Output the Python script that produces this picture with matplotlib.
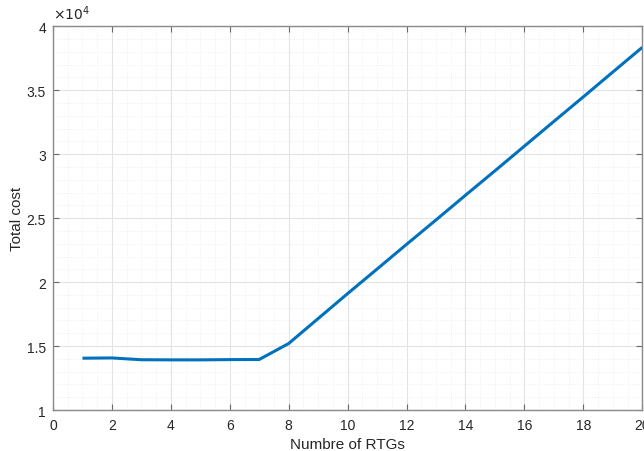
import numpy as np
import matplotlib
matplotlib.use('Agg')
import matplotlib.pyplot as plt
from matplotlib.ticker import MultipleLocator, FuncFormatter

# data
n_rtg = [1, 2, 3, 4, 5, 6, 7, 8, 9, 10, 11, 12, 13, 14, 15, 16, 17, 18, 19, 20]
total_cost = [14050, 14070, 13930, 13920, 13920, 13940, 13950, 15200,
              17150, 19100, 21020, 22950, 24860, 26790, 28700, 30630,
              32560, 34480, 36420, 38350]

plt.rcParams['font.family'] = ['Liberation Sans', 'DejaVu Sans']

fig = plt.figure(figsize=(6.44, 4.52), dpi=100)
ax = fig.add_axes([0.0823, 0.0907, 0.915, 0.849])

ax.plot(n_rtg, total_cost, color='#0072BD', linewidth=2.2, solid_capstyle='butt')

ax.set_xlim(0, 20)
ax.set_ylim(10000, 40000)
ax.xaxis.set_major_locator(MultipleLocator(2))
ax.xaxis.set_minor_locator(MultipleLocator(0.5))
ax.yaxis.set_major_locator(MultipleLocator(5000))
ax.yaxis.set_minor_locator(MultipleLocator(1000))
ax.yaxis.set_major_formatter(FuncFormatter(lambda v, p: '%g' % (v / 1e4)))

ax.grid(True, which='major', color='#e3e3e3', linewidth=0.8)
ax.grid(True, which='minor', color='#ececec', linewidth=0.6, linestyle=':')
ax.set_axisbelow(True)

for s in ax.spines.values():
    s.set_color('#8a8a8a')
    s.set_linewidth(1.0)
ax.tick_params(which='major', direction='in', length=4, top=True, right=True,
               color='#6a6a6a', labelcolor='#262626', labelsize=10)
ax.tick_params(axis='x', which='major', pad=6)
ax.tick_params(axis='y', which='major', pad=5)
ax.tick_params(which='minor', length=0)

ax.set_xlabel('Numbre of RTGs', fontsize=11, color='#262626', labelpad=3)
ax.set_ylabel('Total cost', fontsize=11, color='#262626', labelpad=2)
ax.text(0.0, 1.012, r'$\times10^{4}$', transform=ax.transAxes, fontsize=10,
        color='#262626', ha='left', va='bottom')

fig.savefig('out.png', dpi=100)
